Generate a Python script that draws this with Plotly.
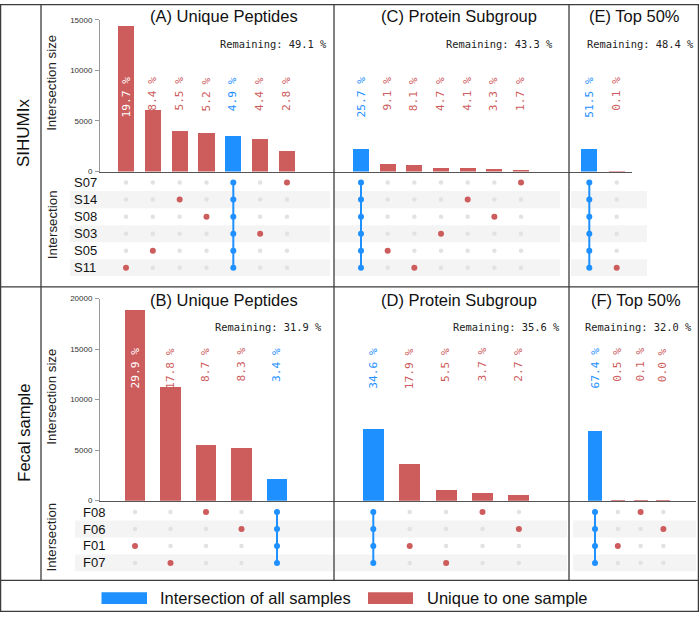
import plotly.graph_objects as go

W, H = 699, 617

# ---------------- data ----------------
top_samples = ["S07", "S14", "S08", "S03", "S05", "S11"]
bottom_samples = ["F08", "F06", "F01", "F07"]

a_title = "(A) Unique Peptides"
a_values = [14380, 6130, 4010, 3800, 3580, 3210, 2040]
a_pct = ["19.7 %", "8.4 %", "5.5 %", "5.2 %", "4.9 %", "4.4 %", "2.8 %"]
a_sets = ["S11", "S05", "S14", "S08", "all", "S03", "S07"]
a_remaining = "Remaining: 49.1 %"

c_title = "(C) Protein Subgroup"
c_values = [2270, 805, 715, 415, 362, 291, 150]
c_pct = ["25.7 %", "9.1 %", "8.1 %", "4.7 %", "4.1 %", "3.3 %", "1.7 %"]
c_sets = ["all", "S05", "S11", "S03", "S14", "S08", "S07"]
c_remaining = "Remaining: 43.3 %"

e_title = "(E) Top 50%"
e_values = [2210, 50]
e_pct = ["51.5 %", "0.1 %"]
e_sets = ["all", "S11"]
e_remaining = "Remaining: 48.4 %"

b_title = "(B) Unique Peptides"
b_values = [18950, 11290, 5520, 5280, 2170]
b_pct = ["29.9 %", "17.8 %", "8.7 %", "8.3 %", "3.4 %"]
b_sets = ["F01", "F07", "F08", "F06", "all"]
b_remaining = "Remaining: 31.9 %"

d_title = "(D) Protein Subgroup"
d_values = [7160, 3710, 1140, 770, 570]
d_pct = ["34.6 %", "17.9 %", "5.5 %", "3.7 %", "2.7 %"]
d_sets = ["all", "F01", "F07", "F08", "F06"]
d_remaining = "Remaining: 35.6 %"

f_title = "(F) Top 50%"
f_values = [6900, 60, 40, 30]
f_pct = ["67.4 %", "0.5 %", "0.1 %", "0.0 %"]
f_sets = ["all", "F01", "F08", "F06"]
f_remaining = "Remaining: 32.0 %"

y_ticks_top = [0, 5000, 10000, 15000]
y_ticks_bottom = [0, 5000, 10000, 15000, 20000]
row_labels = ["SIHUMIx", "Fecal sample"]
legend_labels = ["Intersection of all samples", "Unique to one sample"]
y_title = "Intersection size"
matrix_title = "Intersection"

# ---------------- style ----------------
RED = "#CD5C5C"
BLUE = "#1E90FF"
GRAY_DOT = "#E2E2E2"
SHADE = "#F4F4F4"
FRAME = "#3C3C3C"
SANS = "Liberation Sans, Arial, sans-serif"
MONO = "DejaVu Sans Mono, monospace"

ROWS = {
    "top": dict(bar=(16, 170), ymax=15000, ticks=y_ticks_top, label_top=72,
                title_y=12.5, rem_y=41, row0=181.2, rstep=17.3, ytitle_y=80,
                samples=top_samples),
    "bottom": dict(bar=(299, 504), ymax=20000, ticks=y_ticks_bottom, label_top=347,
                   title_y=300, rem_y=328, row0=515.6, rstep=17.2, ytitle_y=398.5,
                   samples=bottom_samples),
}

panels = [
    dict(row="top", title=a_title, values=a_values, pct=a_pct, sets=a_sets, rem=a_remaining,
         xdom=(100, 334), c0=126, step=26.83, bw=0.6, shade=(70, 330),
         title_x=223.5, rem_x=273, show_y=True, lab_x=72),
    dict(row="top", title=c_title, values=c_values, pct=c_pct, sets=c_sets, rem=c_remaining,
         xdom=(334, 569), c0=361, step=26.67, bw=0.6, shade=(334, 560),
         title_x=459, rem_x=499, show_y=False),
    dict(row="top", title=e_title, values=e_values, pct=e_pct, sets=e_sets, rem=e_remaining,
         xdom=(569, 632), c0=589.3, step=27.4, bw=0.58, shade=(571, 647),
         title_x=634, rem_x=640.5, show_y=False),
    dict(row="bottom", title=b_title, values=b_values, pct=b_pct, sets=b_sets, rem=b_remaining,
         xdom=(100, 334), c0=135, step=35.5, bw=0.58, shade=(75, 334),
         title_x=223.5, rem_x=268.5, show_y=True, lab_x=81),
    dict(row="bottom", title=d_title, values=d_values, pct=d_pct, sets=d_sets, rem=d_remaining,
         xdom=(334, 569), c0=373.3, step=36.4, bw=0.58, shade=(334, 567),
         title_x=459, rem_x=506, show_y=False),
    dict(row="bottom", title=f_title, values=f_values, pct=f_pct, sets=f_sets, rem=f_remaining,
         xdom=(569, 696), c0=595, step=22.8, bw=0.61, shade=(573, 696),
         title_x=636, rem_x=638, show_y=False),
]


def pxx(p):
    return p / W


def pxy(p):
    return 1 - p / H


fig = go.Figure()
layout_axes = {}
annotations = []
shapes = []

for k, p in enumerate(panels):
    r = ROWS[p["row"]]
    samples = r["samples"]
    n = len(p["values"])
    nrows = len(samples)
    xi, ybi, ymi = k + 1, 2 * k + 1, 2 * k + 2
    xn = "x" if xi == 1 else f"x{xi}"
    ybn = "y" if ybi == 1 else f"y{ybi}"
    ymn = f"y{ymi}"
    xkey = "xaxis" if xi == 1 else f"xaxis{xi}"
    ybkey = "yaxis" if ybi == 1 else f"yaxis{ybi}"
    ymkey = f"yaxis{ymi}"

    xr = [(p["xdom"][0] - p["c0"]) / p["step"], (p["xdom"][1] - p["c0"]) / p["step"]]
    layout_axes[xkey] = dict(domain=[pxx(p["xdom"][0]), pxx(p["xdom"][1])], range=xr,
                             anchor=ybn, showgrid=False, zeroline=False, showticklabels=False,
                             ticks="", showline=True, linecolor="#555", linewidth=1,
                             fixedrange=True)
    btop, bbot = r["bar"]
    layout_axes[ybkey] = dict(domain=[pxy(bbot), pxy(btop)], range=[0, r["ymax"]],
                              anchor=xn, showgrid=False, zeroline=False,
                              showline=p["show_y"], linecolor="#999", linewidth=1,
                              ticks="outside" if p["show_y"] else "", ticklen=4,
                              tickcolor="#999", tickmode="array", tickvals=r["ticks"],
                              ticktext=[str(t) for t in r["ticks"]],
                              showticklabels=p["show_y"], ticklabelstandoff=1,
                              tickfont=dict(family=SANS, size=8, color="#333"),
                              fixedrange=True)
    rtop = r["row0"] - r["rstep"] / 2
    rbot = r["row0"] + r["rstep"] * (nrows - 0.5)
    layout_axes[ymkey] = dict(domain=[pxy(rbot), pxy(rtop)], range=[nrows - 0.5, -0.5],
                              anchor=xn, visible=False, fixedrange=True)

    colors = [BLUE if s == "all" else RED for s in p["sets"]]
    fig.add_trace(go.Bar(x=list(range(n)), y=p["values"], width=p["bw"],
                         marker=dict(color=colors, line=dict(width=0)),
                         xaxis=xn, yaxis=ybn, showlegend=False))

    # matrix
    gx, gy, rx, ry = [], [], [], []
    for i, s in enumerate(p["sets"]):
        if s == "all":
            fig.add_trace(go.Scatter(x=[i] * nrows, y=list(range(nrows)), mode="lines+markers",
                                     line=dict(color=BLUE, width=2),
                                     marker=dict(color=BLUE, size=6),
                                     xaxis=xn, yaxis=ymn, showlegend=False))
            continue
        for j, smp in enumerate(samples):
            if smp == s:
                rx.append(i); ry.append(j)
            else:
                gx.append(i); gy.append(j)
    fig.add_trace(go.Scatter(x=gx, y=gy, mode="markers", marker=dict(color=GRAY_DOT, size=4.5),
                             xaxis=xn, yaxis=ymn, showlegend=False))
    fig.add_trace(go.Scatter(x=rx, y=ry, mode="markers", marker=dict(color=RED, size=6),
                             xaxis=xn, yaxis=ymn, showlegend=False))

    # shaded rows
    for j in range(1, nrows, 2):
        shapes.append(dict(type="rect", xref="paper", yref=ymn,
                           x0=pxx(p["shade"][0]), x1=pxx(p["shade"][1]),
                           y0=j - 0.5, y1=j + 0.5, fillcolor=SHADE, line=dict(width=0),
                           layer="below"))

    # percent labels
    lab_center_px = r["label_top"] + 20
    thr = (bbot - lab_center_px) / (bbot - btop) * r["ymax"]
    for i, (v, t, s) in enumerate(zip(p["values"], p["pct"], p["sets"])):
        col = "white" if v > thr else (BLUE if s == "all" else RED)
        annotations.append(dict(x=i, xref=xn, y=pxy(r["label_top"]), yref="paper",
                                yanchor="top", xanchor="center", textangle=-90, text=t,
                                showarrow=False, font=dict(family=MONO, size=11.2, color=col)))

    # titles
    annotations.append(dict(x=pxx(p["title_x"]), y=pxy(r["title_y"]), xref="paper", yref="paper",
                            text=p["title"], showarrow=False, xanchor="center", yanchor="middle",
                            font=dict(family=SANS, size=16.5, color="#111")))
    annotations.append(dict(x=pxx(p["rem_x"]), y=pxy(r["rem_y"]), xref="paper", yref="paper",
                            text=p["rem"], showarrow=False, xanchor="center", yanchor="middle",
                            font=dict(family=MONO, size=10.4, color="#222")))

    if p["show_y"]:
        for j, smp in enumerate(samples):
            annotations.append(dict(x=pxx(p["lab_x"]), y=j, xref="paper", yref=ymn,
                                    text=smp, showarrow=False, xanchor="left", yanchor="middle",
                                    font=dict(family=SANS, size=13, color="#111")))
        annotations.append(dict(x=pxx(52), y=pxy(r["ytitle_y"]), xref="paper", yref="paper",
                                text=y_title, textangle=-90, showarrow=False,
                                xanchor="center", yanchor="middle",
                                font=dict(family=SANS, size=13.3, color="#222")))
        annotations.append(dict(x=pxx(52), y=pxy((rtop + rbot) / 2), xref="paper", yref="paper",
                                text=matrix_title, textangle=-90, showarrow=False,
                                xanchor="center", yanchor="middle",
                                font=dict(family=SANS, size=13.3, color="#222")))

# left group labels
annotations.append(dict(x=pxx(23), y=pxy(131), xref="paper", yref="paper", text=row_labels[0],
                        textangle=-90, showarrow=False, xanchor="center", yanchor="middle",
                        font=dict(family=SANS, size=17, color="#111")))
annotations.append(dict(x=pxx(24), y=pxy(435), xref="paper", yref="paper", text=row_labels[1],
                        textangle=-90, showarrow=False, xanchor="center", yanchor="middle",
                        font=dict(family=SANS, size=16.5, color="#111")))

# legend (manual)
leg = [(BLUE, 101.5, 147, 158), (RED, 368, 413, 425)]
for (col, r0, r1, tx), lab in zip(leg, legend_labels):
    shapes.append(dict(type="rect", xref="paper", yref="paper", x0=pxx(r0), x1=pxx(r1),
                       y0=pxy(609), y1=pxy(597), fillcolor=col, line=dict(width=0)))
    annotations.append(dict(x=pxx(tx), y=pxy(603), xref="paper", yref="paper", text=lab,
                            showarrow=False, xanchor="left", yanchor="middle",
                            font=dict(family=SANS, size=16.5, color="#111")))

# frame lines
fl = dict(color=FRAME, width=1.3)
shapes.append(dict(type="rect", xref="paper", yref="paper", x0=pxx(0.6), x1=pxx(698.4),
                   y0=pxy(616.4), y1=pxy(0.6), line=fl))
for yy in (287, 585):
    shapes.append(dict(type="line", xref="paper", yref="paper", x0=0, x1=1,
                       y0=pxy(yy), y1=pxy(yy), line=fl))
for xx in (41, 334, 569):
    shapes.append(dict(type="line", xref="paper", yref="paper", x0=pxx(xx), x1=pxx(xx),
                       y0=pxy(585), y1=1, line=fl))

fig.update_layout(width=W, height=H, margin=dict(l=0, r=0, t=0, b=0),
                  paper_bgcolor="white", plot_bgcolor="rgba(0,0,0,0)",
                  annotations=annotations, shapes=shapes, bargap=0,
                  **layout_axes)

fig.write_html("out.html", config={"displayModeBar": False},
               post_script="document.body.style.margin='0';document.body.style.overflow='hidden';")
